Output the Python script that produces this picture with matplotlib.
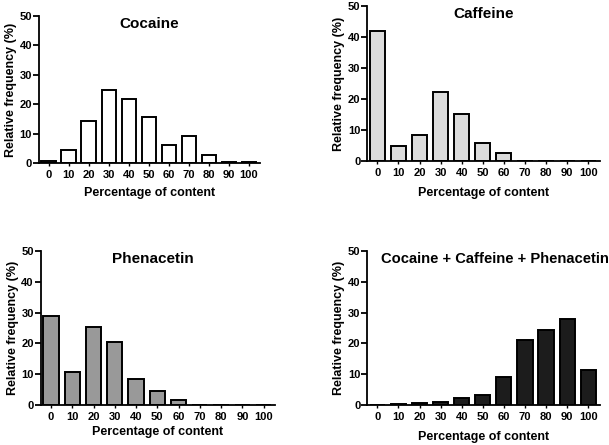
import matplotlib
matplotlib.use("Agg")
import matplotlib.pyplot as plt

plt.rcParams['font.family'] = ['Liberation Sans', 'DejaVu Sans']
plt.rcParams['font.weight'] = 'bold'

content = [0, 10, 20, 30, 40, 50, 60, 70, 80, 90, 100]

cocaine = [0.8, 4.5, 14.3, 24.8, 21.8, 15.7, 6.0, 9.3, 2.8, 0.4, 0.4]
caffeine = [41.8, 5.0, 8.4, 22.3, 15.1, 5.9, 2.5, 0, 0, 0, 0]
phenacetin = [28.8, 10.8, 25.3, 20.3, 8.4, 4.5, 1.5, 0, 0, 0, 0]
mixture = [0.1, 0.4, 0.75, 1.1, 2.2, 3.2, 9.0, 21.1, 24.3, 27.9, 11.2]

# title, values, fill, axes rect, xlabel pixel y, title x (axes fraction), title size
panels = [
    ("Cocaine", cocaine, "white", [0.064, 0.634, 0.363, 0.330], 193, 0.5, 11),
    ("Caffeine", caffeine, "#dcdcdc", [0.603, 0.638, 0.382, 0.349], 193, 0.5, 11),
    ("Phenacetin", phenacetin, "#999999", [0.067, 0.090, 0.385, 0.346], 432, 0.48, 11),
    ("Cocaine + Caffeine + Phenacetin", mixture, "#1c1c1c", [0.603, 0.090, 0.382, 0.346], 437, 0.55, 10.6),
]

fig = plt.figure(figsize=(6.09, 4.45), dpi=100)

for title, vals, color, rect, xlab_y, tx, tsize in panels:
    ax = fig.add_axes(rect)
    ax.bar(content, vals, width=7.2, color=color, edgecolor="black", linewidth=1.4)
    ax.set_xlim(-4.8, 105.5)
    ax.set_ylim(0, 50)
    ax.set_yticks([0, 10, 20, 30, 40, 50])
    ax.set_xticks(content)
    ax.spines['top'].set_visible(False)
    ax.spines['right'].set_visible(False)
    ax.spines['left'].set_linewidth(1.3)
    ax.spines['bottom'].set_linewidth(1.3)
    ax.tick_params(axis='y', direction='out', length=4, width=1.3, labelsize=8, pad=1)
    ax.tick_params(axis='x', direction='out', length=2, width=1.0, labelsize=8, pad=3)
    for lab in ax.get_xticklabels() + ax.get_yticklabels():
        lab.set_fontweight('bold')
    ax.set_ylabel("Relative frequency (%)", fontsize=9, fontweight='bold', labelpad=2)
    ax.set_xlabel("Percentage of content", fontsize=9, fontweight='bold')
    # put the x label at a fixed pixel height
    bbox = ax.get_position()
    ax.xaxis.set_label_coords(0.5, ((1 - xlab_y / 445) - bbox.y0) / bbox.height)
    ax.xaxis.label.set_verticalalignment('center')
    ax.set_title(title, fontsize=tsize, fontweight='bold', x=tx, y=0.92, pad=0)

fig.savefig("out.png", dpi=100)
